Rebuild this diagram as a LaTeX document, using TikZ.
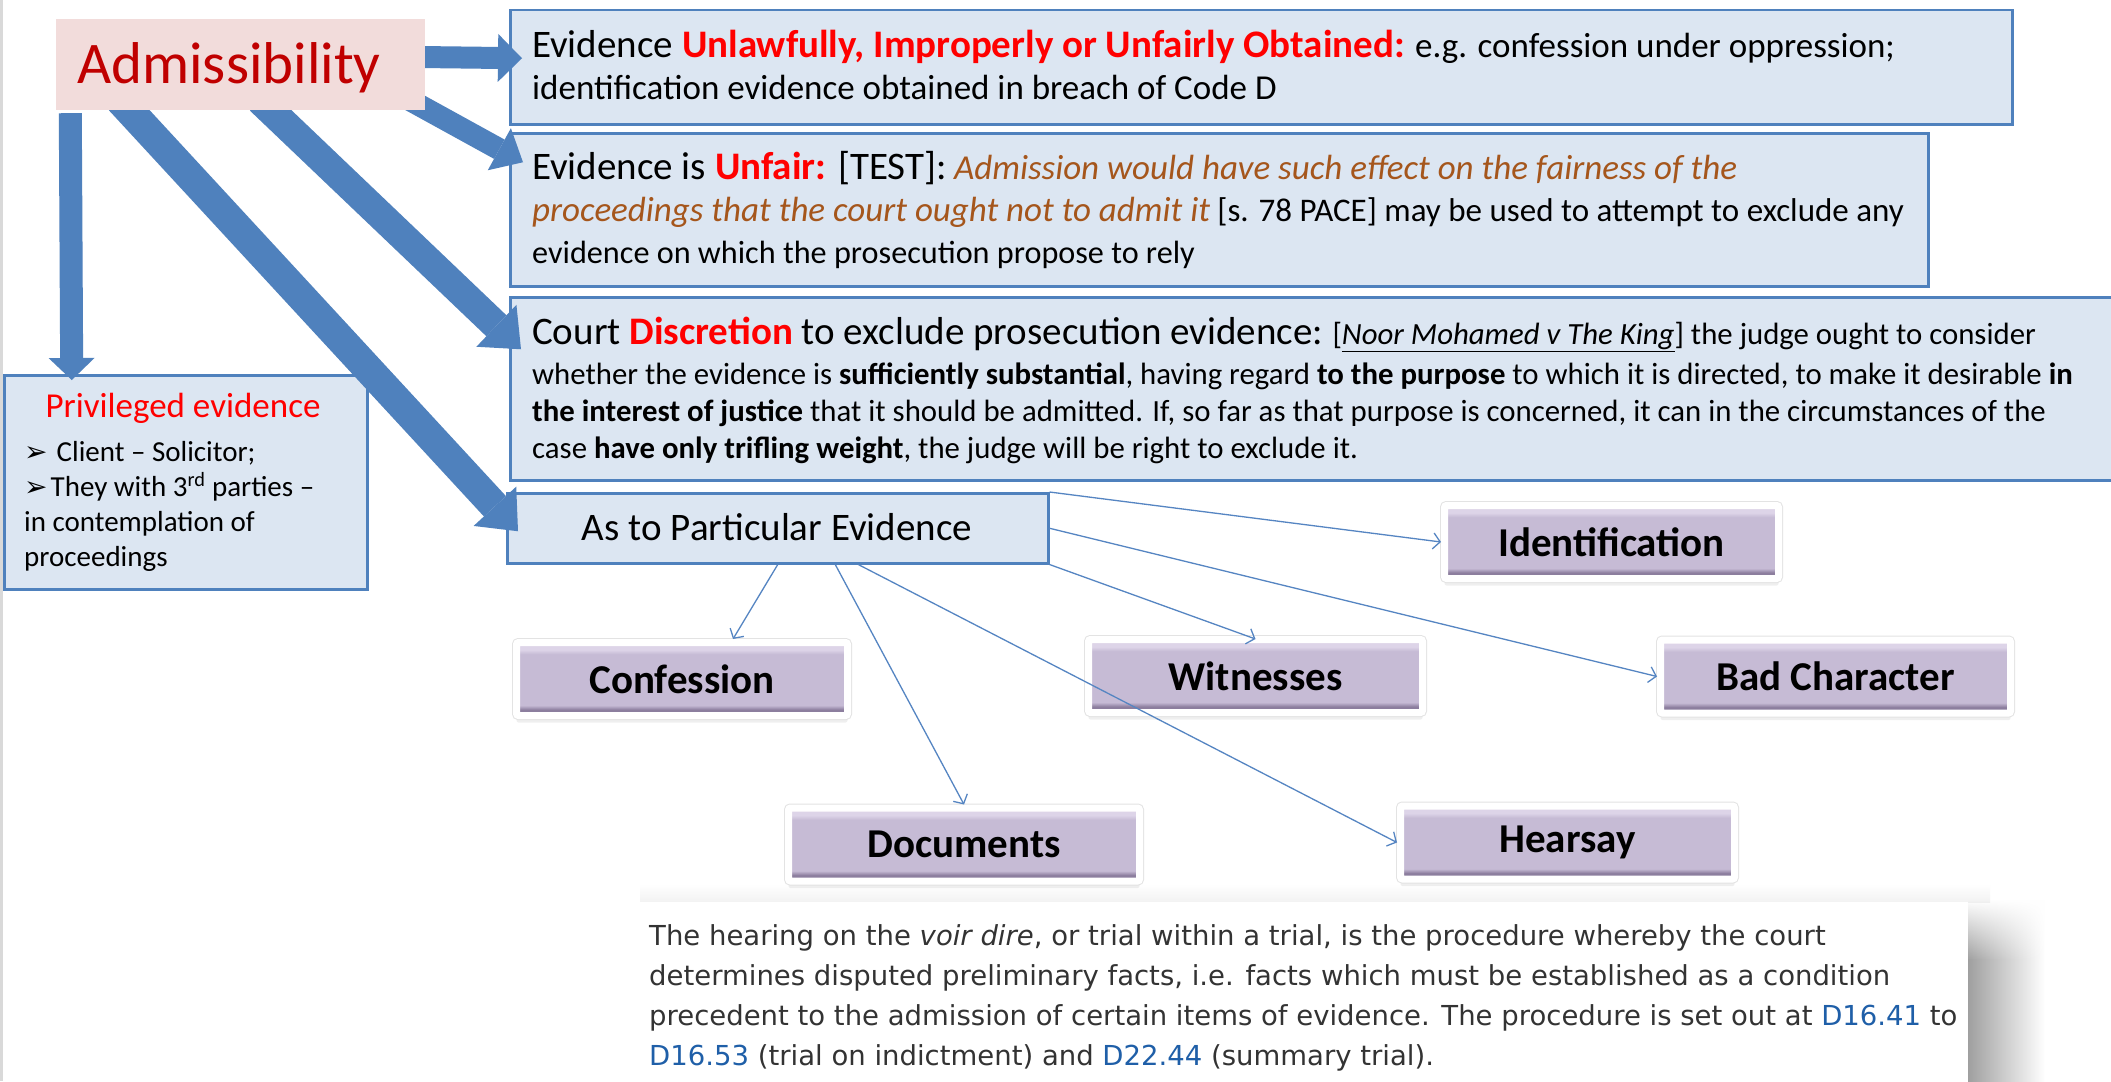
\documentclass[tikz,border=0pt]{standalone}
\usepackage{fontspec}
\setmainfont{Carlito}
\newfontfamily\dejavufont{DejaVu Sans}
\usetikzlibrary{arrows.meta,shadows,calc,fadings}
\pgfdeclarelayer{front}
\pgfsetlayers{main,front}
\definecolor{boxfill}{HTML}{DCE6F2}
\definecolor{boxline}{HTML}{4F81BD}
\definecolor{arrowblue}{HTML}{4F81BD}
\definecolor{thinblue}{HTML}{5585C2}
\definecolor{admfill}{HTML}{F2DCDB}
\definecolor{admred}{HTML}{C00000}
\definecolor{alarm}{HTML}{FF0000}
\definecolor{itbrown}{HTML}{A5561C}
\definecolor{linkblue}{HTML}{1F5FA8}
\definecolor{bodygray}{HTML}{333333}
\definecolor{pl}{HTML}{DDD4E8}
\definecolor{pm}{HTML}{C6BBD5}
\definecolor{pd}{HTML}{8C7E9E}
\pgfdeclareverticalshading{purplebevel}{100bp}{color(0bp)=(pd); color(25bp)=(pd); color(29bp)=(pd); color(32bp)=(pm); color(67bp)=(pm); color(70bp)=(pl); color(75bp)=(pl); color(100bp)=(pl)}
\newcommand\setfs[2]{\fontsize{#1}{#2}\selectfont}
\begin{document}
\begin{tikzpicture}[x=1pt,y=-1pt,
  bluebox/.style={draw=boxline, line width=2.5pt, fill=boxfill, inner sep=0pt, anchor=north west},
  boxtext/.style={align=left, inner sep=0pt, anchor=base west, text=black},
  bigarrow/.style={draw=arrowblue, line cap=butt},
  thinarrow/.style={draw=thinblue, line width=1.3pt, -{Straight Barb[length=7pt,width=16pt]}},
  purplebox/.style={shade, shading=purplebevel, draw=white, line width=7pt, rounded corners=2pt,
    minimum height=73pt, inner sep=0pt, font=\setfs{41}{49}\bfseries,
    drop shadow={shadow xshift=0pt, shadow yshift=-7pt, opacity=0.12},
    preaction={draw=gray!22, line width=9pt}},
  bullet/.style={},
]
\useasboundingbox (0,0) rectangle (2111,1081);
\fill[white] (0,0) rectangle (2111,1081);
\fill[gray!30] (0,0) rectangle (3,1081);

% bottom quoted text box with shadow
\shade[top color=white, bottom color=gray!10] (640,884) rectangle (1990,902);
\shade[left color=gray!75, right color=white, path fading=north] (1968,900) rectangle (2045,960);
\shade[left color=gray!75, right color=white] (1968,959) rectangle (2045,1081);
\node[fill=white, inner sep=0pt, anchor=north west, minimum width=1346pt, minimum height=190pt] (voirbox) at (622,902) {};
\node[boxtext, font=\dejavufont\setfs{27.5}{40}, text=bodygray] (voirtext) at (649,1065)
 {The hearing on the \textit{voir dire}, or trial within a trial, is the procedure whereby the court\\
  determines disputed preliminary facts, i.e. facts which must be established as a condition\\
  precedent to the admission of certain items of evidence. The procedure is set out at \textcolor{linkblue}{D16.41} to\\
  \textcolor{linkblue}{D16.53} (trial on indictment) and \textcolor{linkblue}{D22.44} (summary trial).};

% blue boxes
\node[bluebox, minimum width=1502pt, minimum height=114pt] (unlawful) at (509,9) {};
\node[bluebox, minimum width=1418pt, minimum height=153pt] (unfair) at (509,132) {};
\node[bluebox, minimum width=1620pt, minimum height=183pt] (discretion) at (509,296) {};
\node[bluebox, minimum width=541pt, minimum height=70pt] (particular) at (506,492) {};
\node[bluebox, minimum width=363pt, minimum height=214pt] (privileged) at (3,374) {};

\node[boxtext, font=\setfs{35}{42.5}] (unlawfultext) at (532,99.5)
 {{\setfs{39}{42.5}Evidence \textcolor{alarm}{\bfseries Unlawfully, Improperly or Unfairly Obtained:}} e.g. confession under oppression;\\
  identification evidence obtained in breach of Code D};

\node[boxtext, font=\setfs{32.2}{42}] (unfairtext) at (532,263)
 {{\setfs{39}{42}Evidence is \textcolor{alarm}{\bfseries Unfair:} [TEST]:} {\setfs{35}{42}\color{itbrown}\itshape Admission would have such effect on the fairness of the}\\
  {\setfs{35}{42}\color{itbrown}\itshape proceedings that the court ought not to admit it} {\setfs{33}{42}[s. 78 PACE] may be used to attempt to exclude any}\\
  evidence on which the prosecution propose to rely};

\node[boxtext, font=\setfs{30.8}{37}] (discretiontext) at (532,458)
 {{\setfs{39}{37}Court \textcolor{alarm}{\bfseries Discretion} to exclude prosecution evidence:} [\textit{\underline{Noor Mohamed v The King}}] the judge ought to consider\\[2.5pt]
  whether the evidence is \textbf{sufficiently substantial}, having regard \textbf{to the purpose} to which it is directed, to make it desirable \textbf{in}\\
  \textbf{the interest of justice} that it should be admitted. If, so far as that purpose is concerned, it can in the circumstances of the\\
  case \textbf{have only trifling weight}, the judge will be right to exclude it.};

\node[anchor=base, inner sep=0pt, font=\setfs{39}{45}] (particulartext) at (777,540) {As to Particular Evidence};

\node[anchor=base, inner sep=0pt, font=\setfs{35}{42}, text=alarm] (privtitle) at (183,417) {Privileged evidence};
\node[boxtext, font=\setfs{29}{35}] (privtext) at (24,566)
 {{\dejavufont\setfs{28}{35}➢}\hspace{9pt}Client – Solicitor;\\
  {\dejavufont\setfs{28}{35}➢}\hspace{3pt}They with 3\textsuperscript{rd} parties –\\
  in contemplation of\\
  proceedings};

% purple boxes
\node[purplebox, minimum width=334pt] (ident) at (1611.5,542) {Identification};
\node[purplebox, minimum width=331pt] (confession) at (682,679) {Confession};
\node[purplebox, minimum width=334pt] (witnesses) at (1255.5,676) {Witnesses};
\node[purplebox, minimum width=350pt] (badchar) at (1835.5,676.5) {Bad Character};
\node[purplebox, minimum width=351pt] (documents) at (964,844.5) {Documents};
\node[purplebox, minimum width=334pt] (hearsay) at (1567.5,842.5) {Hearsay};

% thin connectors
\draw[thinarrow] (particular.north east) -- (ident.west);
\draw[thinarrow] (particular.east) -- (badchar.west);
\draw[thinarrow] (particular.south east) -- ([yshift=-3pt]witnesses.north);
\draw[thinarrow] (particular.south) -- ([xshift=51pt]confession.north);
\draw[thinarrow] ([xshift=57.5pt]particular.south) -- (documents.north);
\draw[thinarrow] ([xshift=80.5pt]particular.south) -- (hearsay.west);

% Admissibility box (front)
\begin{pgfonlayer}{front}
\node[fill=admfill, inner sep=0pt, minimum width=369pt, minimum height=91pt] (adm) at (240.5,64.5) {};
\node[anchor=base, inner sep=0pt, font=\setfs{59}{70}, text=admred] (admtext) at (229,84) {Admissibility};
\end{pgfonlayer}

% big block arrows
\draw[bigarrow, line width=22pt, -{Triangle[width=48pt,length=24pt,line width=0pt]}]
  ([xshift=-5pt,yshift=7.5pt]adm.east) -- ([xshift=13pt,yshift=9pt]unlawful.west);
\draw[bigarrow, line width=22pt, -{Triangle[width=48pt,length=27pt,line width=0pt]}]
  ([xshift=-15pt,yshift=10pt]adm.south east) -- ([xshift=14pt,yshift=47.5pt]unfair.west);
\draw[bigarrow, line width=29pt, -{Triangle[width=58pt,length=34pt,line width=0pt]}]
  ([xshift=19.5pt,yshift=10pt]adm.south) -- ([xshift=12pt,yshift=39.5pt]discretion.west);
\draw[bigarrow, line width=30pt, -{Triangle[width=58pt,length=34pt,line width=0pt]}]
  ([xshift=-120.5pt,yshift=10pt]adm.south) -- ([xshift=12pt,yshift=-3pt]particular.west);
\draw[bigarrow, line width=23pt, -{Triangle[width=46pt,length=22pt,line width=0pt]}]
  ([xshift=14.5pt,yshift=-3pt]adm.south west) -- ([xshift=-114pt,yshift=-6pt]privileged.north);
\end{tikzpicture}
\end{document}
